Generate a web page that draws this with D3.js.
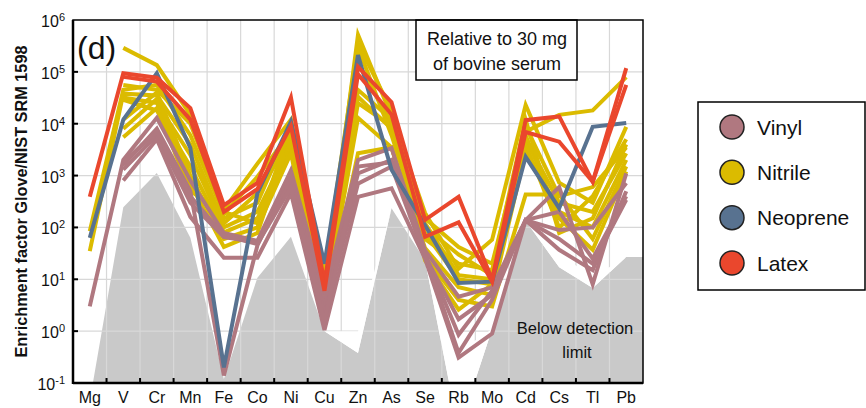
<!DOCTYPE html>
<html>
<head>
<meta charset="utf-8">
<script src="https://cdn.jsdelivr.net/npm/d3@7"></script>
<style>
  body { margin: 0; background: #fff; }
  svg { display: block; }
  text { font-family: "Liberation Sans", Arial, sans-serif; fill: #111; }
</style>
</head>
<body>
<svg id="chart" width="866" height="408"></svg>
<script>
// elements on the x axis
const elements = ["Mg", "V", "Cr", "Mn", "Fe", "Co", "Ni", "Cu", "Zn", "As", "Se", "Rb", "Mo", "Cd", "Cs", "Tl", "Pb"];
const yTickExponents = [-1, 0, 1, 2, 3, 4, 5, 6];

// detection limit (grey area) and its upper envelope (white band)
const detectionLimit = [0.045, 245, 1120, 63, 0.12, 10.7, 66, 1.0, 0.38, 234, 23, 0.012, 1.1, 135, 17, 6.8, 27];
const detectionUpper = [0.045, 245, 1120, 63, 0.12, 10.7, 66, 1.0, 1.0, 234, 23, 0.4, 1.1, 135, 31, 11, 27];

// enrichment factors, one row per glove, null = below detection
const nitrile = [
    [null, 290000, 135000, 15000, 150, 300, 9000, 5, 520000, 14000, 190, 16, 58, 23000, 730, 300, 8700],
    [null, 56000, 45000, 10000, 220, 1700, 12000, 13, 350000, 18000, 150, 42, 20, 7000, 14800, 18000, 79000],
    [85, 45000, 56000, 6000, 180, 950, 7000, 8, 150000, 10000, 100, 30, 12, 9000, 400, 600, 3500],
    [35, 38000, 35000, 4000, 120, 460, 5000, 4, 33000, 8000, 78, 10, 8, 5000, 300, 200, 2700],
    [null, 32000, 25000, 2500, 100, 200, 4000, 3, 13000, 3500, 40, 7, 5, 3000, 200, 100, 2000],
    [null, 29000, 18000, 1500, 80, 150, 3000, 2.5, 2700, 3500, 27, 4, 3, 430, 430, 60, 1500],
    [null, 12000, 40000, 1000, 60, 100, 2700, 1.9, 45000, 12000, 23, 2.6, 8, 6000, 150, 37, 1200],
    [null, 8000, 30000, 700, 42, 78, 6000, 6, 25000, 9000, 120, 12, 10, 4000, 100, 400, 5000],
    [null, 5500, 20000, 500, 200, 120, 8000, 10, 300000, 6000, 60, 20, 15, 12000, 78, 150, 4000]
];
const vinyl = [
    [3, 2000, 13000, 800, 78, 55, 1250, 5.5, 2000, 3400, 36, 4.6, 7, 138, 600, 8, 1100],
    [null, 1600, 8000, 500, 0.14, 45, 1000, 3, 1100, 2000, 30, 0.85, 6, 138, 89, 100, 720],
    [null, 1300, 6000, 300, 65, 52, 800, 2, 700, 1500, 28, 1.7, 5, 138, 37, 15, 500],
    [null, 800, 5000, 160, 26, 26, 460, 1.05, 390, 570, 25, 0.31, 0.9, 138, 60, 20, 340],
    [null, 1800, 7000, 400, 70, 48, 600, 1.5, 1500, 1800, 30, 0.38, 4, 138, 200, 25, 400]
];
const neoprene = [
    [63, 12000, 94000, 3400, 0.2, 460, 11000, 20, 210000, 1300, 110, 8.5, 9, 2300, 235, 8700, 10300]
];
const latex = [
    [390, 94000, 77000, 20000, 270, 720, 32000, 8.5, 125000, 26000, 140, 390, 9.8, 11700, 13800, 760, 118000],
    [null, 80000, 65000, 12000, 200, 550, 9000, 6, 90000, 15000, 66, 125, 9, 6900, 4500, 760, 56000]
];

const gloveTypes = ["Vinyl", "Nitrile", "Neoprene", "Latex"];
const colors = { Vinyl: "#b07880", Nitrile: "#dbbb00", Neoprene: "#587290", Latex: "#ea472d" };

const plot = { left: 73, right: 643, top: 20, bottom: 383 };
const svg = d3.select("#chart");

const x = d3.scalePoint().domain(elements).range([plot.left, plot.right]).padding(0.5);
const y = d3.scaleLog().domain([0.1, 1e6]).range([plot.bottom, plot.top]);

svg.append("defs").append("clipPath").attr("id", "clip")
    .append("rect")
    .attr("x", plot.left).attr("y", plot.top)
    .attr("width", plot.right - plot.left).attr("height", plot.bottom - plot.top);

const g = svg.append("g").attr("clip-path", "url(#clip)");

// detection limit, carried on to the right edge
const limitPts = elements.map((e, i) => ({ x: x(e), lo: detectionLimit[i], hi: detectionUpper[i] }));
const lastPt = limitPts[limitPts.length - 1];
limitPts.push({ x: x.range()[1], lo: lastPt.lo, hi: lastPt.hi });

g.append("path").datum(limitPts)
    .attr("fill", "#c9c9c9")
    .attr("d", d3.area().x(d => d.x).y0(plot.bottom).y1(d => y(d.lo)));

// grid
const step = x.step();
g.selectAll(".vgrid").data(elements.slice(1)).enter().append("line")
    .attr("x1", d => x(d) - step / 2).attr("x2", d => x(d) - step / 2)
    .attr("y1", plot.top).attr("y2", plot.bottom)
    .attr("stroke", "#d8d8d8").attr("stroke-width", 1.2);
g.selectAll(".hgrid").data(yTickExponents.slice(1, -1)).enter().append("line")
    .attr("x1", plot.left).attr("x2", plot.right)
    .attr("y1", d => y(Math.pow(10, d))).attr("y2", d => y(Math.pow(10, d)))
    .attr("stroke", "#d8d8d8").attr("stroke-width", 1.2);

g.append("path").datum(limitPts)
    .attr("fill", "#fff")
    .attr("d", d3.area().x(d => d.x).y0(d => y(d.lo)).y1(d => y(d.hi)));

svg.append("text").attr("x", 575).attr("y", 334).attr("text-anchor", "middle")
    .attr("font-size", 16.5).text("Below detection");
svg.append("text").attr("x", 577).attr("y", 358).attr("text-anchor", "middle")
    .attr("font-size", 16.5).text("limit");

// glove lines
const line = d3.line()
    .defined(d => d.v != null)
    .x(d => x(d.e))
    .y(d => y(d.v));

const drawOrder = [["Nitrile", nitrile], ["Vinyl", vinyl], ["Neoprene", neoprene], ["Latex", latex]];
drawOrder.forEach(([type, rows]) => {
    rows.forEach(row => {
        g.append("path")
            .datum(row.map((v, i) => ({ e: elements[i], v: v })))
            .attr("fill", "none")
            .attr("stroke", colors[type])
            .attr("stroke-width", 4)
            .attr("stroke-linejoin", "miter")
            .attr("d", line);
    });
});

// panel label
svg.append("rect").attr("x", plot.left).attr("y", plot.top).attr("width", 46).attr("height", 47).attr("fill", "#fff");
svg.append("text").attr("x", 77).attr("y", 59).attr("font-size", 32).text("(d)");

// note box
svg.append("rect").attr("x", 416).attr("y", plot.top).attr("width", 161).attr("height", 60)
    .attr("fill", "#fff").attr("stroke", "#000").attr("stroke-width", 1.5);
svg.append("text").attr("x", 497).attr("y", 45).attr("text-anchor", "middle").attr("font-size", 18).text("Relative to 30 mg");
svg.append("text").attr("x", 497).attr("y", 70).attr("text-anchor", "middle").attr("font-size", 18).text("of bovine serum");

// frame and axes
svg.append("rect").attr("x", plot.left).attr("y", plot.top)
    .attr("width", plot.right - plot.left).attr("height", plot.bottom - plot.top)
    .attr("fill", "none").attr("stroke", "#000").attr("stroke-width", 1.5);
svg.append("line").attr("x1", plot.left).attr("x2", plot.left).attr("y1", plot.top).attr("y2", plot.bottom + 1)
    .attr("stroke", "#000").attr("stroke-width", 2.5);
svg.append("line").attr("x1", plot.left).attr("x2", plot.right).attr("y1", plot.bottom).attr("y2", plot.bottom)
    .attr("stroke", "#000").attr("stroke-width", 2.5);

svg.selectAll(".ytick").data(yTickExponents.slice(1, -1)).enter().append("line")
    .attr("x1", plot.left).attr("x2", plot.left + 5)
    .attr("y1", d => y(Math.pow(10, d))).attr("y2", d => y(Math.pow(10, d)))
    .attr("stroke", "#000").attr("stroke-width", 2);
svg.selectAll(".xtick").data(elements.slice(1)).enter().append("line")
    .attr("x1", d => x(d) - step / 2).attr("x2", d => x(d) - step / 2)
    .attr("y1", plot.bottom).attr("y2", plot.bottom - 5)
    .attr("stroke", "#000").attr("stroke-width", 2);

const yLabels = svg.selectAll(".ylab").data(yTickExponents).enter().append("text")
    .attr("x", plot.left - 8)
    .attr("y", d => y(Math.pow(10, d)) + 7)
    .attr("text-anchor", "end")
    .attr("font-size", 16);
yLabels.append("tspan").text("10");
yLabels.append("tspan").attr("dy", -6).attr("font-size", 11).text(d => d);

svg.selectAll(".xlab").data(elements).enter().append("text")
    .attr("x", d => x(d))
    .attr("y", plot.bottom + 20)
    .attr("text-anchor", "middle")
    .attr("font-size", 16)
    .text(d => d);

svg.append("text")
    .attr("transform", `translate(27,${(plot.top + plot.bottom) / 2}) rotate(-90)`)
    .attr("text-anchor", "middle")
    .attr("font-size", 17)
    .attr("font-weight", "bold")
    .attr("textLength", 312)
    .attr("lengthAdjust", "spacingAndGlyphs")
    .text("Enrichment factor Glove/NIST SRM 1598");

// legend
svg.append("rect").attr("x", 698).attr("y", 102).attr("width", 167).attr("height", 188)
    .attr("fill", "#fff").attr("stroke", "#000").attr("stroke-width", 1.5);
const legendY = d3.scalePoint().domain(gloveTypes).range([127, 263]);
const legend = svg.selectAll(".leg").data(gloveTypes).enter().append("g")
    .attr("transform", d => `translate(732,${legendY(d)})`);
legend.append("circle").attr("r", 12).attr("fill", d => colors[d]).attr("stroke", "#222").attr("stroke-width", 1.5);
legend.append("text").attr("x", 25).attr("y", 7.5).attr("font-size", 21).text(d => d);
</script>
</body>
</html>
